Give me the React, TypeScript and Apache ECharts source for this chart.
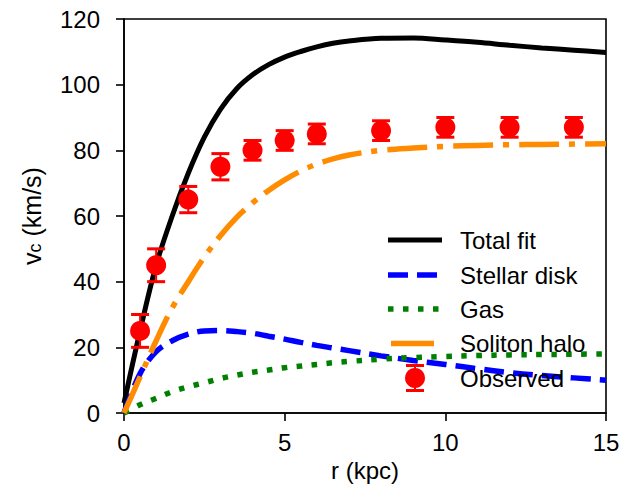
import React, { useEffect, useRef } from 'react';
import * as echarts from 'echarts';

const radii = [0, 0.5, 1, 1.5, 2, 2.5, 3, 3.5, 4, 4.5, 5, 5.5, 6, 6.5, 7, 8, 9, 10, 11, 12, 13, 14, 15];
const totalFit = [3, 25, 45, 60, 73, 84, 92.5, 98.7, 103, 106.1, 108.4, 110.1, 111.5, 112.6, 113.3, 114.1, 114.2, 113.6, 112.9, 112, 111.2, 110.5, 109.8];
const stellarDisk = [0, 12, 18.7, 22, 24, 25, 25.1, 24.8, 24.3, 23.4, 22.5, 21.5, 20.6, 19.8, 19, 17.4, 16, 14.8, 13.5, 12.3, 11.4, 10.7, 10];
const gas = [0, 2.5, 4.5, 6.5, 8, 9.2, 10.5, 11.5, 12.4, 13.1, 13.8, 14.3, 14.8, 15.3, 15.7, 16.4, 16.9, 17.2, 17.5, 17.7, 17.8, 17.9, 18];
const solitonHalo = [0, 11, 22, 32, 40, 47.5, 54, 59.5, 64, 67.8, 71, 73.7, 75.8, 77.4, 78.6, 80, 80.7, 81.2, 81.5, 81.7, 81.8, 81.9, 82];

const obsR = [0.5, 1, 2, 3, 4, 5, 6, 8, 10, 12, 14];
const obsV = [25, 45, 65, 75, 80, 83, 85, 86, 87, 87, 87];
const obsErr = [5, 5, 4, 4, 3, 3, 3, 3, 3, 3, 3];

const legendLabels = ['Total fit', 'Stellar disk', 'Gas', 'Soliton halo', 'Observed'];

const FONT = "'Liberation Sans', Arial, Helvetica, sans-serif";

export default function App() {
  const ref = useRef<HTMLDivElement>(null);

  useEffect(() => {
    const chart = echarts.init(ref.current as HTMLDivElement, null, { renderer: 'svg' });
    const pair = (ys: number[]) => radii.map((r, i) => [r, ys[i]]);

    const lineSeries = (name: string, ys: number[], color: string, width: number, type: any) => ({
      name,
      type: 'line',
      data: pair(ys),
      smooth: 0.35,
      symbol: 'none',
      showSymbol: false,
      lineStyle: { color, width, type, cap: 'butt' },
      z: 2,
    });

    const lx1 = 388;
    const lx2 = 442;
    const ly = [240, 275, 309, 343.5, 378];
    const legendGraphics: any[] = [
      { type: 'line', shape: { x1: lx1, y1: ly[0], x2: lx2, y2: ly[0] }, style: { stroke: '#000', lineWidth: 5 } },
      { type: 'line', shape: { x1: lx1, y1: ly[1], x2: lx2, y2: ly[1] }, style: { stroke: '#0000ff', lineWidth: 5.5, lineDash: [20, 9] } },
      { type: 'line', shape: { x1: lx1, y1: ly[2], x2: lx2, y2: ly[2] }, style: { stroke: '#008000', lineWidth: 5.5, lineDash: [5.5, 9.5] } },
      { type: 'line', shape: { x1: 391, y1: ly[3], x2: 434, y2: ly[3] }, style: { stroke: '#ff8c00', lineWidth: 5.5 } },
      { type: 'line', shape: { x1: 415, y1: ly[4] - 12.5, x2: 415, y2: ly[4] + 12.5 }, style: { stroke: '#ff0000', lineWidth: 2 } },
      { type: 'line', shape: { x1: 406, y1: ly[4] - 12.5, x2: 424, y2: ly[4] - 12.5 }, style: { stroke: '#ff0000', lineWidth: 3 } },
      { type: 'line', shape: { x1: 406, y1: ly[4] + 12.5, x2: 424, y2: ly[4] + 12.5 }, style: { stroke: '#ff0000', lineWidth: 3 } },
      { type: 'circle', shape: { cx: 415, cy: ly[4], r: 10 }, style: { fill: '#ff0000' } },
    ];
    legendLabels.forEach((t, i) => {
      legendGraphics.push({
        type: 'text',
        x: 460,
        y: ly[i],
        style: { text: t, fontSize: 24, fontFamily: FONT, fill: '#000', verticalAlign: 'middle', align: 'left' },
      });
    });

    chart.setOption({
      animation: false,
      backgroundColor: '#fff',
      grid: { left: 124, right: 18, top: 19, bottom: 75, show: true, borderColor: '#000', borderWidth: 1.6, backgroundColor: 'transparent' },
      xAxis: {
        type: 'value',
        min: 0,
        max: 15,
        interval: 5,
        name: 'r (kpc)',
        nameLocation: 'middle',
        nameGap: 45,
        nameTextStyle: { fontSize: 24, fontFamily: FONT, color: '#000' },
        axisLine: { show: true, lineStyle: { color: '#000', width: 1.6 } },
        axisTick: { show: true, inside: false, length: 8, lineStyle: { color: '#000', width: 1.6 } },
        axisLabel: { fontSize: 24, fontFamily: FONT, color: '#000', margin: 17 },
        splitLine: { show: false },
      },
      yAxis: {
        type: 'value',
        min: 0,
        max: 120,
        interval: 20,
        name: '{a|v}{b|c}{a| (km/s)}',
        nameLocation: 'middle',
        nameGap: 80,
        nameTextStyle: {
          rich: {
            a: { fontSize: 25, fontFamily: FONT, color: '#000', lineHeight: 25, verticalAlign: 'top' },
            b: { fontSize: 18, fontFamily: FONT, color: '#000', lineHeight: 18, verticalAlign: 'bottom', padding: [13, 0, 0, 0] },
          },
        },
        axisLine: { show: true, lineStyle: { color: '#000', width: 1.6 } },
        axisTick: { show: true, inside: false, length: 8, lineStyle: { color: '#000', width: 1.6 } },
        axisLabel: { fontSize: 24, fontFamily: FONT, color: '#000', margin: 24 },
        splitLine: { show: false },
      },
      series: [
        lineSeries('Total fit', totalFit, '#000000', 5, 'solid'),
        lineSeries('Stellar disk', stellarDisk, '#0000ff', 5.5, [20, 9]),
        lineSeries('Gas', gas, '#008000', 5.5, [5.5, 9.5]),
        lineSeries('Soliton halo', solitonHalo, '#ff8c00', 5.5, [40, 10, 6, 10]),
        {
          name: 'Observed error',
          type: 'custom',
          z: 5,
          data: obsR.map((r, i) => [r, obsV[i] - obsErr[i], obsV[i] + obsErr[i]]),
          encode: { x: 0, y: [1, 2] },
          renderItem: (params: any, api: any) => {
            const x = api.value(0);
            const top = api.coord([x, api.value(2)]);
            const bot = api.coord([x, api.value(1)]);
            const hw = 9;
            return {
              type: 'group',
              children: [
                { type: 'line', shape: { x1: top[0], y1: top[1], x2: bot[0], y2: bot[1] }, style: { stroke: '#ff0000', lineWidth: 2 } },
                { type: 'line', shape: { x1: top[0] - hw, y1: top[1], x2: top[0] + hw, y2: top[1] }, style: { stroke: '#ff0000', lineWidth: 3 } },
                { type: 'line', shape: { x1: bot[0] - hw, y1: bot[1], x2: bot[0] + hw, y2: bot[1] }, style: { stroke: '#ff0000', lineWidth: 3 } },
              ],
            };
          },
        },
        {
          name: 'Observed',
          type: 'scatter',
          z: 6,
          data: obsR.map((r, i) => [r, obsV[i]]),
          symbol: 'circle',
          symbolSize: 20,
          itemStyle: { color: '#ff0000', opacity: 1 },
          emphasis: { disabled: true },
        },
      ],
      graphic: { elements: legendGraphics.map((g) => ({ ...g, z: 100 })) },
    });

    return () => chart.dispose();
  }, []);

  return <div ref={ref} style={{ position: 'fixed', left: 0, top: 0, width: 624, height: 488, background: '#fff' }} />;
}
